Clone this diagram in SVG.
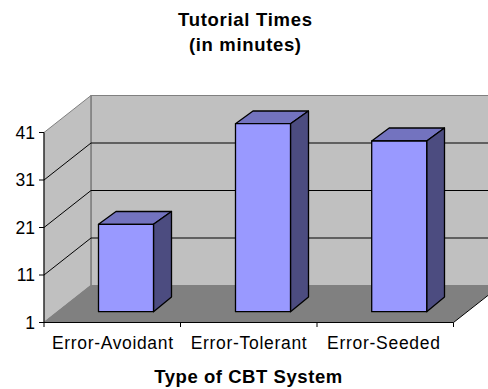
<svg xmlns="http://www.w3.org/2000/svg" width="488" height="389" viewBox="0 0 488 389">
  <style>
    .title { font-family: "Liberation Sans", Arial, sans-serif; font-size: 18.5px; font-weight: bold; fill: #000; text-anchor: middle; }
    .label { font-family: "Liberation Sans", Arial, sans-serif; font-size: 17.5px; fill: #000; }
    .wall { fill: #c0c0c0; stroke: #808080; stroke-width: 1; }
    .floor { fill: #808080; stroke: none; }
    .grid { stroke: #000; stroke-width: 1; fill: none; }
    .axis { stroke: #000; stroke-width: 1; fill: none; }
    .edge { stroke: #808080; stroke-width: 1.2; fill: none; }
    .front { fill: #9999ff; stroke: #000; stroke-width: 1.3; stroke-linejoin: round; }
    .top { fill: #7373bf; stroke: #000; stroke-width: 1.3; stroke-linejoin: round; }
    .side { fill: #4c4c80; stroke: #000; stroke-width: 1.3; stroke-linejoin: round; }
  </style>
  <rect width="488" height="389" fill="#fff"/>

  <!-- chart title -->
  <g id="title">
    <text class="title" x="245" y="26" textLength="134" lengthAdjust="spacing">Tutorial Times</text>
    <text class="title" x="245" y="51" textLength="112" lengthAdjust="spacing">(in minutes)</text>
  </g>

  <!-- plot walls and floor -->
  <g id="walls">
    <rect class="wall" x="91" y="95.5" width="420" height="190"/>
    <polygon class="wall" points="44,322.5 44,132.5 91,95.5 91,285.5"/>
    <polygon class="floor" points="44,322.5 453.5,322.5 500.5,285.5 91,285.5"/>
    <line class="edge" x1="91" y1="95.5" x2="91" y2="285.5"/>
    <line class="edge" x1="44" y1="322.5" x2="91" y2="285.5"/>
    <!-- gridlines -->
    <path class="grid" d="M44,275 L91,238 H488 M44,227.5 L91,190.5 H488 M44,180 L91,143 H488"/>
    <line x1="453.5" y1="322.5" x2="488" y2="295.4" stroke="#000" stroke-width="1"/>
  </g>

  <!-- axes -->
  <g id="axes">
    <path class="axis" d="M44,132.5 V327 M44,322.5 H453.5"/>
    <path class="axis" d="M39,132.5 H44 M39,180 H44 M39,227.5 H44 M39,275 H44 M39,322.5 H44"/>
    <path class="axis" d="M180.5,322.5 V327 M317,322.5 V327 M453.5,322.5 V327"/>
    <text class="label" x="35" y="139" text-anchor="end">41</text>
    <text class="label" x="35" y="186" text-anchor="end">31</text>
    <text class="label" x="35" y="233.5" text-anchor="end">21</text>
    <text class="label" x="35" y="281" text-anchor="end">11</text>
    <text class="label" x="35" y="328.5" text-anchor="end">1</text>
  </g>

  <!-- bars -->
  <g id="bar-avoidant">
    <polygon class="top" points="98.5,224.3 116,211.5 171.5,211.5 153.5,224.3"/>
    <polygon class="side" points="153.5,224.3 171.5,211.5 171.5,297 153.5,311.7"/>
    <rect class="front" x="98.5" y="224.3" width="55" height="87.4"/>
  </g>
  <g id="bar-tolerant">
    <polygon class="top" points="235.5,123.7 253,111 308.5,111 290.5,123.7"/>
    <polygon class="side" points="290.5,123.7 308.5,111 308.5,297 290.5,311.7"/>
    <rect class="front" x="235.5" y="123.7" width="55" height="188"/>
  </g>
  <g id="bar-seeded">
    <polygon class="top" points="371.7,141 389.2,128 444.5,128 426.7,141"/>
    <polygon class="side" points="426.7,141 444.5,128 444.5,297 426.7,311.7"/>
    <rect class="front" x="371.7" y="141" width="55" height="170.7"/>
  </g>

  <!-- category labels -->
  <g id="categories">
    <text class="label" x="112.5" y="349.3" text-anchor="middle" textLength="121" lengthAdjust="spacing">Error-Avoidant</text>
    <text class="label" x="248.7" y="349.3" text-anchor="middle" textLength="116" lengthAdjust="spacing">Error-Tolerant</text>
    <text class="label" x="383.5" y="349.3" text-anchor="middle" textLength="113" lengthAdjust="spacing">Error-Seeded</text>
  </g>

  <!-- axis title -->
  <g id="axis-title">
    <text class="title" x="248.2" y="383" textLength="188" lengthAdjust="spacing">Type of CBT System</text>
  </g>
</svg>
